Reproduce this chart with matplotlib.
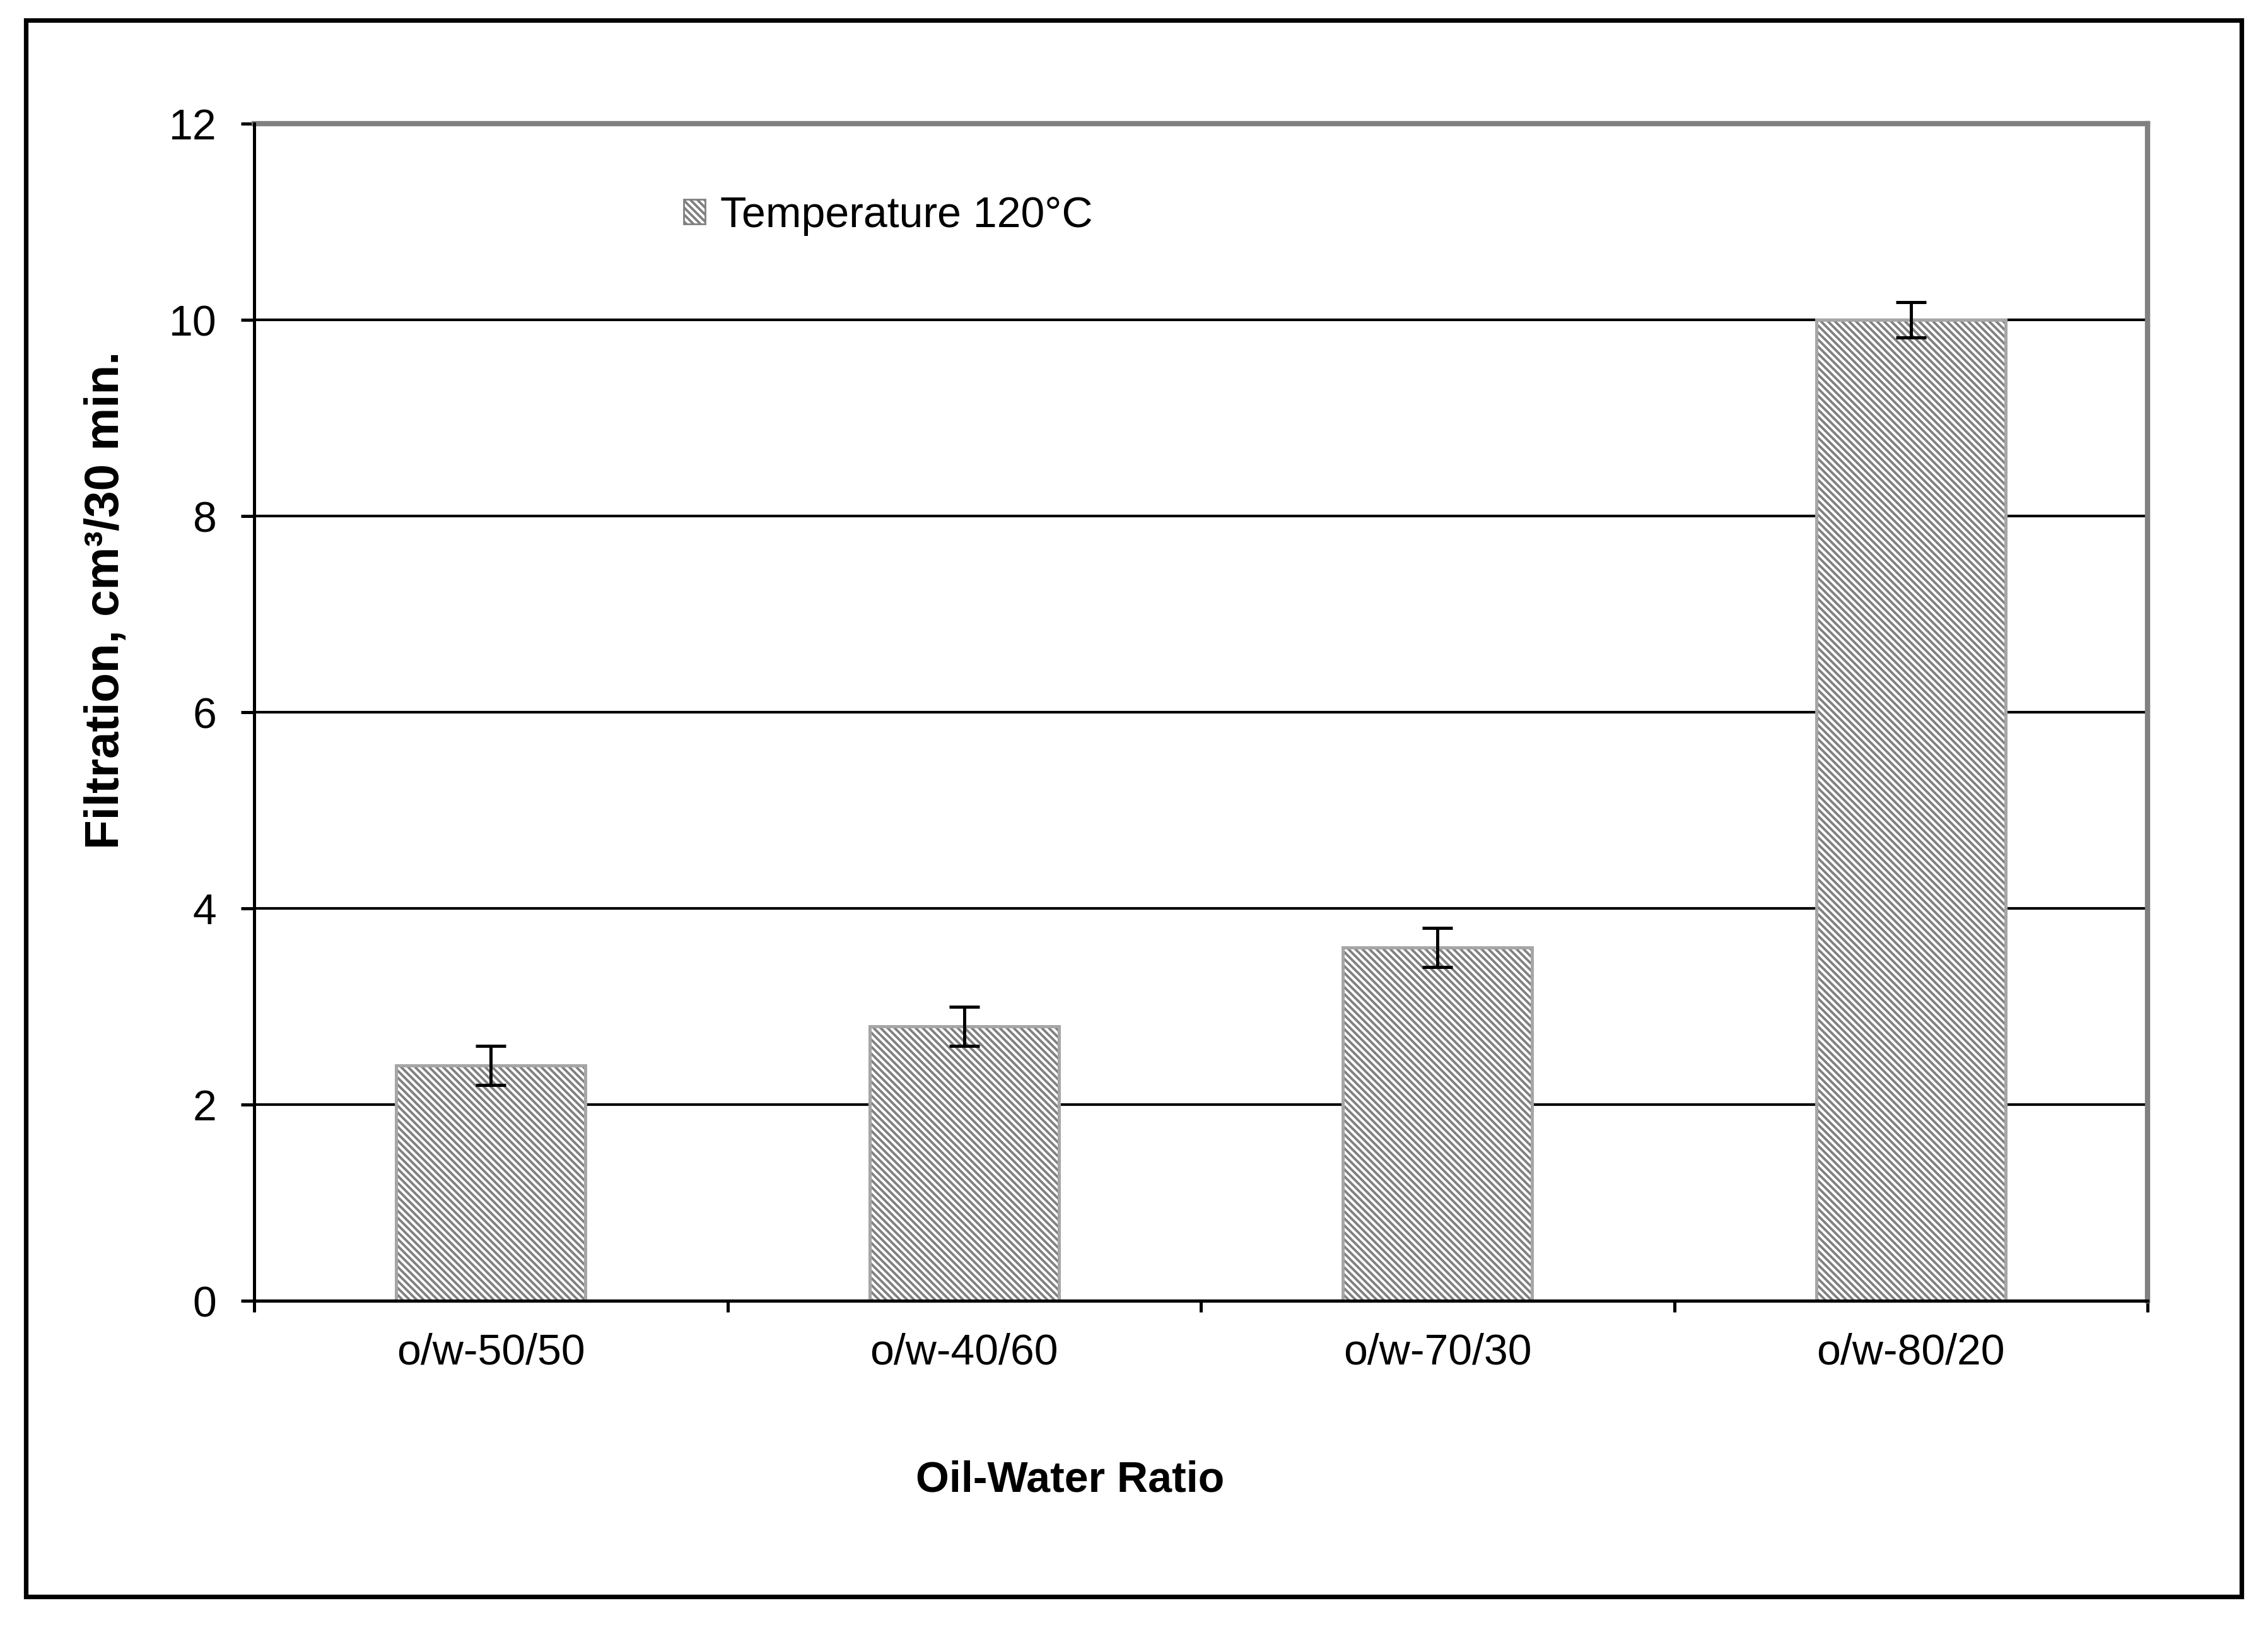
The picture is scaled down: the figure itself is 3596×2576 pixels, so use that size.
import matplotlib
matplotlib.use('Agg')
import matplotlib.pyplot as plt
from matplotlib.patches import Patch, Rectangle
import numpy as np

# chart values
categories = ['o/w-50/50', 'o/w-40/60', 'o/w-70/30', 'o/w-80/20']
filtration = [2.4, 2.8, 3.6, 10.0]
errors = [0.2, 0.2, 0.2, 0.18]
legend_label = 'Temperature 120°C'

plt.rcParams['font.family'] = ['Liberation Sans', 'DejaVu Sans']
plt.rcParams['font.size'] = 24.5
plt.rcParams['hatch.linewidth'] = 1.4

hatch = '\\' * 6
x = np.arange(len(categories))

fig = plt.figure(figsize=(17.98, 12.88), dpi=200)
ax = fig.add_axes([0.1121, 0.1995, 0.8348, 0.7244])

# hatched fill, then light grey outline on top
ax.bar(x, filtration, width=0.4, color='white', edgecolor='#808080',
       hatch=hatch, linewidth=0, zorder=3)
ax.bar(x, filtration, width=0.4, color='none', edgecolor='#a6a6a6',
       linewidth=1.8, zorder=4)
ax.errorbar(x, filtration, yerr=errors, fmt='none', ecolor='black',
            elinewidth=1.8, capsize=8.5, capthick=1.8, zorder=5)

ax.set_xlim(-0.5, 3.5)
ax.set_ylim(0, 12)
ax.set_yticks(np.arange(0, 13, 2))
ax.yaxis.grid(True, color='black', linewidth=1.5)
ax.set_axisbelow(True)

ax.set_xticks(x)
ax.set_xticklabels(categories)
ax.set_xticks(np.arange(-0.5, 4, 1), minor=True)
ax.tick_params(axis='x', which='major', length=0, pad=18)
ax.tick_params(axis='x', which='minor', length=6.5, width=1.8, direction='out')
ax.tick_params(axis='y', length=7.5, width=1.8, pad=14)

# plot area border grey, axis lines black
for side in ['top', 'right']:
    ax.spines[side].set_color('#808080')
    ax.spines[side].set_linewidth(3)
for side in ['left', 'bottom']:
    ax.spines[side].set_color('black')
    ax.spines[side].set_linewidth(1.8)
    ax.spines[side].set_zorder(6)

ax.set_xlabel('Oil-Water Ratio', fontweight='bold')
ax.xaxis.set_label_coords(0.431, -0.1525)
ax.xaxis.label.set_va('center')
ax.set_ylabel('Filtration, cm³/30 min.', fontweight='bold', fontsize=27.5)
ax.yaxis.set_label_coords(-0.078, 0.595)
ax.yaxis.label.set_va('center')

handle = Patch(facecolor='white', edgecolor='#808080', hatch=hatch, linewidth=1.0)
ax.legend([handle], [legend_label], loc='center left',
          bbox_to_anchor=(0.2155, 0.922), frameon=False, borderpad=0,
          handlelength=0.5, handleheight=0.5, handletextpad=0.35)

# outer chart border
fig.patches.append(Rectangle((0.0114, 0.0175), 0.9769, 0.9701, transform=fig.transFigure,
                             fill=False, edgecolor='black', linewidth=2.6))

fig.savefig('out.png', dpi=200, facecolor='white')
